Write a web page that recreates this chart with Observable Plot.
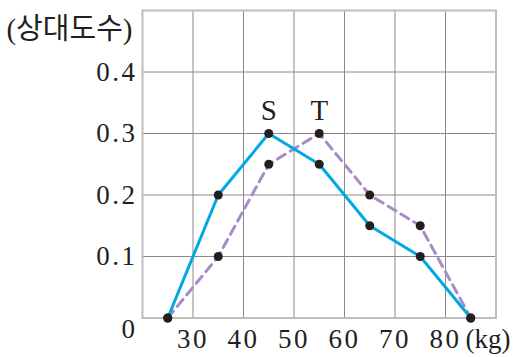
<!DOCTYPE html>
<html><head><meta charset="utf-8">
<script src="https://cdn.jsdelivr.net/npm/d3@7"></script>
<script src="https://cdn.jsdelivr.net/npm/@observablehq/plot@0.6"></script>
<style>
html,body{margin:0;padding:0;background:#fff;}
.num{letter-spacing:2.5px;}
</style>
</head><body>
<div id="chart"></div>
<script>
const weights = [25, 35, 45, 55, 65, 75, 85];
const sValues = [0, 0.2, 0.3, 0.25, 0.15, 0.1, 0];
const tValues = [0, 0.1, 0.25, 0.3, 0.2, 0.15, 0];
const xTicks = [30, 40, 50, 60, 70, 80];
const xGrid = [30, 40, 50, 60, 70, 80];
const yTicks = [0, 0.1, 0.2, 0.3, 0.4];
const yTickLabels = ["0", "0.1", "0.2", "0.3", "0.4"];
const yGrid = [0.1, 0.2, 0.3, 0.4];
const yLabel = "(상대도수)";
const xUnit = "(kg)";
const seriesNames = ["S", "T"];

const S = weights.map((w, i) => ({w, v: sValues[i]}));
const T = weights.map((w, i) => ({w, v: tValues[i]}));
const peaks = [{w: 45, v: 0.3, name: seriesNames[0]}, {w: 55, v: 0.3, name: seriesNames[1]}];
const serif = "Liberation Serif";

const chart = Plot.plot({
  width: 514, height: 357,
  marginLeft: 142, marginRight: 18.5, marginTop: 10, marginBottom: 39.5,
  x: {domain: [20, 90], axis: null},
  y: {domain: [0, 0.5], axis: null},
  style: {background: "#fff"},
  marks: [
    Plot.ruleX(xGrid, {stroke: "#8a8a8a", strokeWidth: 1}),
    Plot.ruleY(yGrid, {stroke: "#8a8a8a", strokeWidth: 1}),
    Plot.frame({stroke: "#bdbdbd", strokeWidth: 2}),
    Plot.line(T, {x: "w", y: "v", stroke: "#a98bc6", strokeWidth: 3, strokeDasharray: "9,6"}),
    Plot.line(S, {x: "w", y: "v", stroke: "#00a9e3", strokeWidth: 3}),
    Plot.dot(S, {x: "w", y: "v", r: 4.5, fill: "#231f20"}),
    Plot.dot(T, {x: "w", y: "v", r: 4.5, fill: "#231f20"}),
    Plot.text(peaks, {x: "w", y: "v", text: "name", dy: -23, fontSize: 29, fill: "#231f20", fontFamily: serif}),
    Plot.text(yTicks, {x: 20, y: d => d, text: (d, i) => yTickLabels[i], textAnchor: "end", dx: -5, fontSize: 27, fill: "#231f20", fontFamily: serif}),
    Plot.text(xTicks, {x: d => d, y: 0, text: d => String(d), dy: 21, fontSize: 27, fill: "#231f20", fontFamily: serif}),
    Plot.text([xUnit], {x: 90, y: 0, dy: 21, dx: -8, fontSize: 27, fill: "#231f20", fontFamily: serif}),
    Plot.text([yLabel], {frameAnchor: "top-left", textAnchor: "end", dx: -10, dy: 8, fontSize: 29, fill: "#231f20", fontFamily: "Liberation Serif, Noto Sans CJK KR"})
  ]
});
d3.select(chart).selectAll("text").filter(function() { return /^[0-9.]+$/.test(this.textContent); }).classed("num", true);
// offset the zero label downward as in the reference
d3.select(chart).selectAll("text").filter(function() { return this.textContent === "0"; }).attr("dy", "0.42em");
document.getElementById("chart").appendChild(chart);
</script>
</body></html>
